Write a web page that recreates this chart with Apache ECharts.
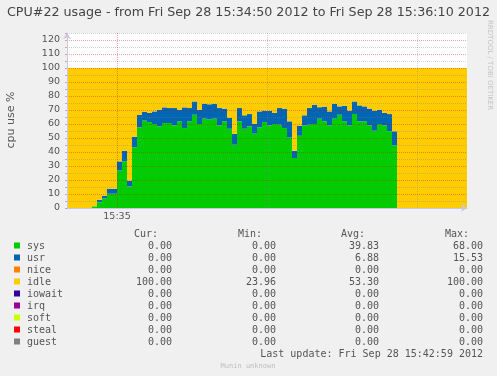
<!DOCTYPE html>
<html>
<head>
<meta charset="utf-8">
<script src="https://cdn.jsdelivr.net/npm/echarts@6/dist/echarts.min.js"></script>
<style>
html,body{margin:0;padding:0;background:#f0f0f0;}
#chart{width:497px;height:376px;}
</style>
</head>
<body>
<div id="chart"></div>
<script>
// ---- data (one step per second, 15:34:50 .. 15:36:09) ----
const startSec = 15 * 3600 + 34 * 60 + 50;
const categories = [];
for (let i = 0; i < 80; i++) {
  const t = startSec + i;
  const h = Math.floor(t / 3600), m = Math.floor((t % 3600) / 60), s = t % 60;
  categories.push(h + ':' + String(m).padStart(2, '0') + ':' + String(s).padStart(2, '0'));
}
const sysValues = [
  0, 0, 0, 0, 0,
  1.2, 4.0, 6.9, 10.2, 10.2, 26.9, 33.3, 15.4, 43.3, 57.6,
  62.4, 61.4, 60.0, 58.3, 60.7, 60.7, 59.0, 61.9, 57.1, 61.9,
  66.6, 60.0, 63.8, 63.3, 63.8, 59.0, 61.9, 56.6, 45.2, 61.9,
  56.6, 58.3, 53.1, 57.6, 61.4, 59.0, 60.0, 59.5, 57.1, 50.4,
  35.7, 51.6, 59.0, 59.5, 60.0, 63.8, 61.9, 59.0, 63.8, 66.6,
  61.9, 59.0, 67.1, 61.9, 61.9, 59.0, 55.2, 60.0, 59.0, 54.8,
  44.7,
  0, 0, 0, 0, 0, 0, 0, 0, 0, 0, 0, 0, 0, 0
];
const usrValues = [
  0, 0, 0, 0, 0,
  0, 1.9, 1.9, 3.6, 3.6, 6.4, 7.6, 4.1, 7.6, 9.0,
  6.2, 6.5, 9.0, 11.9, 11.2, 10.7, 12.4, 8.3, 14.8, 9.5,
  9.5, 10.2, 10.5, 10.8, 10.7, 12.4, 9.1, 7.7, 7.7, 9.5,
  9.6, 8.8, 6.9, 11.4, 8.1, 10.5, 7.9, 11.9, 13.9, 11.5,
  5.2, 7.2, 7.2, 11.9, 13.8, 8.2, 10.5, 10.0, 10.7, 6.0,
  11.1, 10.5, 9.0, 11.4, 10.7, 12.0, 14.3, 10.2, 8.9, 12.3,
  10.1,
  0, 0, 0, 0, 0, 0, 0, 0, 0, 0, 0, 0, 0, 0
];
const idleValues = [
  100, 100, 100, 100, 100,
  98.8, 94.1, 91.2, 86.2, 86.2, 66.7, 59.1, 80.5, 49.1, 33.4,
  31.4, 32.1, 31.0, 29.8, 28.1, 28.6, 28.6, 29.8, 28.1, 28.6,
  23.9, 29.8, 25.7, 25.9, 25.5, 28.6, 29.0, 35.7, 47.1, 28.6,
  33.8, 32.9, 40.0, 31.0, 30.5, 30.5, 32.1, 28.6, 29.0, 38.1,
  59.1, 41.2, 33.8, 28.6, 26.2, 28.0, 27.6, 31.0, 25.5, 27.4,
  27.0, 30.5, 23.9, 26.7, 27.4, 29.0, 30.5, 29.8, 32.1, 32.9,
  45.2,
  100, 100, 100, 100, 100, 100, 100, 100, 100, 100, 100, 100, 100, 100
];
// x tick labels (seconds from start -> label)
const xTickSeconds = [10];
const xTickLabels = ['15:35'];
// legend table
const legendNames = ['sys', 'usr', 'nice', 'idle', 'iowait', 'irq', 'soft', 'steal', 'guest'];
const legendCur = [0, 0, 0, 100, 0, 0, 0, 0, 0];
const legendMin = [0, 0, 0, 23.96, 0, 0, 0, 0, 0];
const legendAvg = [39.83, 6.88, 0, 53.30, 0, 0, 0, 0, 0];
const legendMax = [68.00, 15.53, 0, 100, 0, 0, 0, 0, 0];
const legendColors = ['#00cc00', '#0066b3', '#ff8000', '#ffcc00', '#330099', '#990099', '#ccff00', '#ff0000', '#808080'];

// ---- chart ----
const chart = echarts.init(document.getElementById('chart'), null, { renderer: 'canvas' });
const mono = '"DejaVu Sans Mono", monospace';
const sans = '"DejaVu Sans", sans-serif';
const textCol = '#555';
const majorCol = 'rgba(210,0,0,0.35)';
const minorCol = 'rgba(130,130,130,0.35)';
const axisCol = '#c8c8e4';

const graphics = [];
// y axis name
graphics.push({ type: 'text', x: 11, y: 120, rotation: Math.PI / 2,
  style: { text: 'cpu use %', font: '11px ' + sans, fill: textCol, align: 'center', verticalAlign: 'middle' } });
// rrdtool credit
graphics.push({ type: 'text', x: 490, y: 20, rotation: -Math.PI / 2,
  style: { text: 'RRDTOOL / TOBI OETIKER', font: '7px ' + sans, fill: '#c4c4c4', align: 'left', verticalAlign: 'middle' } });
// legend header
const colRight = [172, 276, 379, 483];
const headers = ['Cur:', 'Min:', 'Avg:', 'Max:'];
headers.forEach((h, k) => {
  graphics.push({ type: 'text', x: colRight[k] - 14, y: 234,
    style: { text: h, font: '10px ' + mono, fill: textCol, align: 'right', verticalAlign: 'middle' } });
});
legendNames.forEach((n, i) => {
  const y = 246 + i * 12;
  graphics.push({ type: 'rect', shape: { x: 14, y: y - 3.5, width: 6, height: 6 }, style: { fill: legendColors[i] } });
  graphics.push({ type: 'text', x: 27, y: y,
    style: { text: n, font: '10px ' + mono, fill: textCol, align: 'left', verticalAlign: 'middle' } });
  [legendCur[i], legendMin[i], legendAvg[i], legendMax[i]].forEach((v, k) => {
    graphics.push({ type: 'text', x: colRight[k], y: y,
      style: { text: v.toFixed(2), font: '10px ' + mono, fill: textCol, align: 'right', verticalAlign: 'middle' } });
  });
});
graphics.push({ type: 'text', x: 483, y: 354,
  style: { text: 'Last update: Fri Sep 28 15:42:59 2012', font: '10px ' + mono, fill: textCol, align: 'right', verticalAlign: 'middle' } });
graphics.push({ type: 'text', x: 248, y: 366,
  style: { text: 'Munin unknown', font: '7px ' + mono, fill: '#bdbdbd', align: 'center', verticalAlign: 'middle' } });

const xLineColors = [];
for (let k = 0; k <= 8; k++) {
  xLineColors.push(k === 1 ? majorCol : (k === 4 || k === 7) ? minorCol : 'rgba(0,0,0,0)');
}

chart.setOption({
  animation: false,
  backgroundColor: '#f0f0f0',
  title: {
    text: 'CPU#22 usage - from Fri Sep 28 15:34:50 2012 to Fri Sep 28 15:36:10 2012',
    left: 'center', top: 6, padding: 0,
    textStyle: { fontFamily: sans, fontSize: 12.7, fontWeight: 'normal', color: '#444' }
  },
  grid: { left: 67, top: 33, width: 400, height: 175, show: true, backgroundColor: '#ffffff', borderWidth: 0 },
  xAxis: [
    { type: 'category', data: categories, show: false, boundaryGap: true },
    { type: 'value', min: 0, max: 80, interval: 10, position: 'bottom', z: 10,
      axisLine: { show: true, lineStyle: { color: axisCol, width: 1 }, symbol: ['none', 'arrow'], symbolSize: [6, 6] },
      axisTick: { show: false },
      splitLine: { show: true, lineStyle: { color: xLineColors, type: [1, 1], width: 1 } },
      axisLabel: { margin: 4, fontFamily: sans, fontSize: 9.5, color: textCol,
        formatter: v => { const idx = xTickSeconds.indexOf(v); return idx >= 0 ? xTickLabels[idx] : ''; } }
    }
  ],
  yAxis: {
    type: 'value', min: 0, max: 125, interval: 5, z: 10,
    axisLine: { show: true, lineStyle: { color: axisCol, width: 1 }, symbol: ['none', 'arrow'], symbolSize: [6, 6] },
    axisTick: { show: true, length: 2, lineStyle: { color: majorCol } },
    splitLine: { show: true, lineStyle: { color: [majorCol, minorCol], type: [1, 1], width: 1 } },
    axisLabel: { margin: 7, fontFamily: sans, fontSize: 9.5, color: textCol,
      formatter: v => (v % 10 === 0 ? String(v) : '') }
  },
  graphic: graphics,
  series: [
    { name: 'sys', type: 'bar', stack: 'cpu', xAxisIndex: 0, data: sysValues, barWidth: '100%', barCategoryGap: '0%',
      itemStyle: { color: legendColors[0] }, silent: true },
    { name: 'usr', type: 'bar', stack: 'cpu', xAxisIndex: 0, data: usrValues, barWidth: '100%', barCategoryGap: '0%',
      itemStyle: { color: legendColors[1] }, silent: true },
    { name: 'idle', type: 'bar', stack: 'cpu', xAxisIndex: 0, data: idleValues, barWidth: '100%', barCategoryGap: '0%',
      itemStyle: { color: legendColors[3] }, silent: true }
  ]
});
</script>
</body>
</html>
